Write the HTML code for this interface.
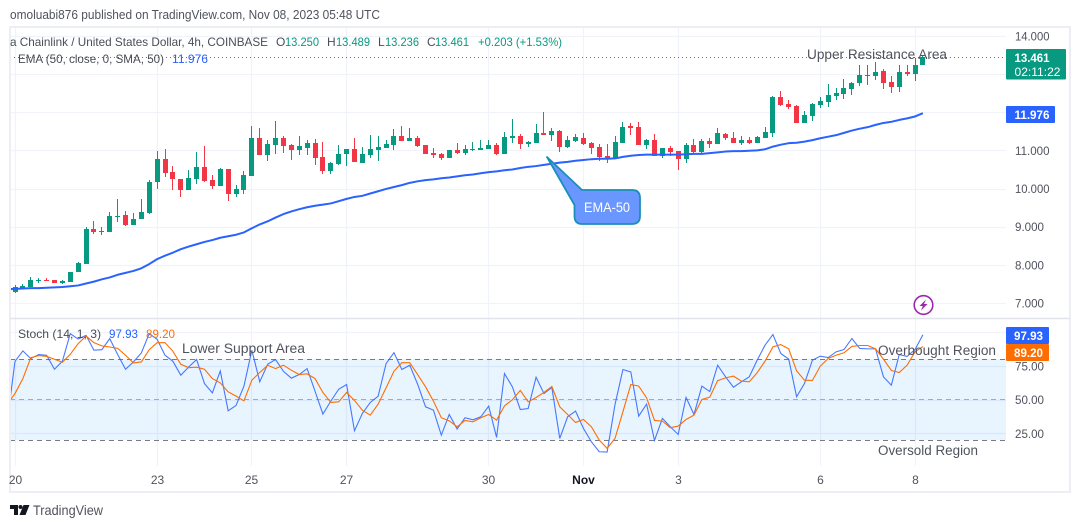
<!DOCTYPE html>
<html lang="en">
<head>
<meta charset="utf-8">
<title>Chainlink / United States Dollar chart</title>
<style>
html,body{margin:0;padding:0;background:#fff;width:1080px;height:528px;overflow:hidden}
svg{display:block;font-family:"Liberation Sans",sans-serif}
</style>
</head>
<body>
<svg id="chart" xmlns="http://www.w3.org/2000/svg" width="1080" height="528" viewBox="0 0 1080 528">
  <defs>
    <clipPath id="clip-main"><rect x="11" y="28" width="995" height="290"/></clipPath>
    <clipPath id="clip-stoch"><rect x="10" y="319" width="996" height="147"/></clipPath>
  </defs>
  <rect x="0" y="0" width="1080" height="528" fill="#fff"/>
  <text x="10" y="19" font-size="12.5" fill="#50535e" textLength="370" lengthAdjust="spacingAndGlyphs">omoluabi876 published on TradingView.com, Nov 08, 2023 05:48 UTC</text>

  <g id="grid"></g>

  <rect x="10" y="359" width="996" height="81" fill="#2196f3" fill-opacity="0.1"/>
  <line x1="10" x2="1006" y1="359.5" y2="359.5" stroke="#787b86" stroke-dasharray="5 4"/>
  <line x1="10" x2="1006" y1="399.5" y2="399.5" stroke="#787b86" stroke-opacity="0.6" stroke-dasharray="5 4"/>
  <line x1="10" x2="1006" y1="440.5" y2="440.5" stroke="#787b86" stroke-dasharray="5 4"/>

  <g id="candles" clip-path="url(#clip-main)" shape-rendering="crispEdges"></g>
  <line x1="10" x2="1006" y1="57.5" y2="57.5" stroke="#089981" stroke-dasharray="1 3"/>
  <path id="ema-line" clip-path="url(#clip-main)" fill="none" stroke="#2962ff" stroke-width="2" stroke-linejoin="round"/>
  <path id="stoch-k-line" clip-path="url(#clip-stoch)" fill="none" stroke="#2962ff" stroke-opacity="0.85" stroke-width="1.1"/>
  <path id="stoch-d-line" clip-path="url(#clip-stoch)" fill="none" stroke="#ff6d00" stroke-width="1.1"/>

  <rect x="10" y="27" width="1060" height="465" fill="none" stroke="#eceef3" stroke-width="2"/>
  <line x1="10" x2="1070" y1="318.5" y2="318.5" stroke="#e0e3eb" stroke-width="1.5"/>

  <g font-size="12">
    <text x="10" y="46" fill="#4a4d57" textLength="258" lengthAdjust="spacingAndGlyphs">a Chainlink / United States Dollar, 4h, COINBASE</text>
    <text x="276" y="46" fill="#4a4d57">O</text>
    <text x="285" y="46" fill="#089981" textLength="34" lengthAdjust="spacingAndGlyphs">13.250</text>
    <text x="327" y="46" fill="#4a4d57">H</text>
    <text x="336" y="46" fill="#089981" textLength="34" lengthAdjust="spacingAndGlyphs">13.489</text>
    <text x="378" y="46" fill="#4a4d57">L</text>
    <text x="385" y="46" fill="#089981" textLength="34" lengthAdjust="spacingAndGlyphs">13.236</text>
    <text x="427" y="46" fill="#4a4d57">C</text>
    <text x="435" y="46" fill="#089981" textLength="34" lengthAdjust="spacingAndGlyphs">13.461</text>
    <text x="478" y="46" fill="#089981" textLength="84" lengthAdjust="spacingAndGlyphs">+0.203 (+1.53%)</text>
    <text x="18" y="63" fill="#4a4d57" textLength="146" lengthAdjust="spacingAndGlyphs">EMA (50, close, 0, SMA, 50)</text>
    <text x="172" y="63" fill="#2962ff" textLength="36" lengthAdjust="spacingAndGlyphs">11.976</text>
    <text x="18" y="338" fill="#4a4d57" textLength="83" lengthAdjust="spacingAndGlyphs">Stoch (14, 1, 3)</text>
    <text x="109" y="338" fill="#2962ff" textLength="29" lengthAdjust="spacingAndGlyphs">97.93</text>
    <text x="146" y="338" fill="#ff6d00" textLength="29" lengthAdjust="spacingAndGlyphs">89.20</text>
  </g>

  <g font-size="13.5" fill="#50535e">
    <text x="807" y="59" textLength="140" lengthAdjust="spacingAndGlyphs">Upper Resistance Area</text>
    <text x="182" y="353" textLength="123" lengthAdjust="spacingAndGlyphs">Lower Support Area</text>
    <text x="878" y="355" textLength="118" lengthAdjust="spacingAndGlyphs">Overbought Region</text>
    <text x="878" y="455" textLength="100" lengthAdjust="spacingAndGlyphs">Oversold Region</text>
  </g>

  <g>
    <path d="M547 157 L582 190 L632 190 Q640 190 640 198 L640 216 Q640 224 632 224 L582 224 Q574.5 224 574.5 216 L574.5 205 Z" fill="#6a96ff" stroke="#1a8fb8" stroke-width="1.8" stroke-linejoin="round"/>
    <text x="607" y="212" font-size="14" fill="#fff" text-anchor="middle" textLength="46" lengthAdjust="spacingAndGlyphs">EMA-50</text>
  </g>

  <g>
    <circle cx="923.5" cy="305" r="9.3" fill="#fff" stroke="#9c27b0" stroke-width="1.6"/>
    <polygon points="926,299.5 919.5,306 922.8,306 921,310.5 927.5,304 924,304" fill="#9c27b0"/>
  </g>

  <g id="axis-labels"></g>

  <g font-size="12" font-weight="bold" fill="#fff">
    <rect x="1006" y="49" width="60" height="30.5" rx="1" fill="#089981"/>
    <text x="1014.5" y="62" textLength="35" lengthAdjust="spacingAndGlyphs">13.461</text>
    <text x="1014.5" y="76" font-weight="normal" textLength="46" lengthAdjust="spacingAndGlyphs">02:11:22</text>
    <rect x="1006" y="106" width="49" height="17" rx="1" fill="#2962ff"/>
    <text x="1014.5" y="119" textLength="35" lengthAdjust="spacingAndGlyphs">11.976</text>
    <rect x="1006" y="327" width="43" height="17" rx="1" fill="#2962ff"/>
    <text x="1014" y="340" textLength="29" lengthAdjust="spacingAndGlyphs">97.93</text>
    <rect x="1006" y="344" width="43" height="17" rx="1" fill="#ff6d00"/>
    <text x="1014" y="357" textLength="29" lengthAdjust="spacingAndGlyphs">89.20</text>
  </g>

  <g>
    <path d="M10 505H18V515H14V509H10Z M23.5 505H29.5L25.5 515H19.5Z" fill="#131722"/>
    <circle cx="20.5" cy="507" r="2" fill="#131722"/>
    <text x="33" y="515" font-size="14" fill="#50535e" textLength="70" lengthAdjust="spacingAndGlyphs">TradingView</text>
  </g>
</svg>

<script>
/* Bars are 4h candles; first entry sits one bar before the "20" tick and is clipped by the pane edge. */
const opens  = [7.30,7.28,7.39,7.43,7.59,7.60,7.60,7.53,7.55,7.81,8.02,8.94,8.87,8.87,9.27,9.31,9.05,9.19,9.37,10.16,10.78,10.44,10.25,9.97,10.26,10.57,10.23,10.08,10.51,9.87,9.97,10.34,11.33,10.89,11.14,11.33,11.14,11.01,11.06,11.19,10.83,10.46,10.64,10.90,11.04,10.68,10.89,11.01,11.06,11.14,11.38,11.25,11.33,11.14,10.93,10.91,10.80,11.01,10.93,11.01,11.01,11.04,11.14,10.91,11.33,11.38,11.17,11.19,11.46,11.40,11.51,11.09,11.25,11.33,11.19,11.09,10.85,10.79,11.19,11.64,11.61,11.14,11.27,10.85,11.06,10.99,10.78,11.14,10.96,11.25,11.17,11.43,11.33,11.19,11.27,11.19,11.33,11.46,12.40,12.22,12.16,11.72,11.90,12.19,12.27,12.43,12.48,12.61,12.77,12.96,12.95,13.08,12.79,12.66,13.06,13.00,13.25];
const highs  = [7.40,7.46,7.50,7.67,7.66,7.66,7.60,7.60,7.82,8.07,8.99,9.15,8.99,9.38,9.73,9.41,9.36,9.73,10.22,10.99,11.04,10.59,10.25,10.49,10.96,11.12,10.36,10.54,10.51,10.10,10.46,11.64,11.59,11.28,11.77,11.38,11.16,11.38,11.27,11.30,11.22,10.70,11.14,11.04,11.33,11.09,11.40,11.38,11.27,11.56,11.64,11.59,11.38,11.14,11.06,10.93,11.01,11.19,11.14,11.22,11.27,11.27,11.19,11.48,11.82,11.43,11.25,11.69,12.01,11.59,11.54,11.38,11.43,11.46,11.22,11.17,11.17,11.38,11.75,11.72,11.75,11.30,11.43,11.06,11.12,10.99,11.19,11.30,11.30,11.33,11.59,11.46,11.48,11.38,11.35,11.38,11.61,12.43,12.56,12.32,12.19,12.03,12.24,12.40,12.74,12.64,12.87,12.79,13.24,13.24,13.32,13.13,12.95,13.24,13.24,13.42,13.489];
const lows   = [7.25,7.25,7.39,7.43,7.53,7.58,7.53,7.51,7.55,7.80,8.02,8.82,8.77,8.85,9.13,9.03,9.05,9.19,9.34,10.00,10.31,9.95,9.78,9.97,10.13,10.16,10.00,10.08,9.68,9.79,9.87,10.34,10.89,10.72,10.90,10.93,10.75,10.88,10.88,10.62,10.38,10.38,10.62,10.59,10.70,10.68,10.81,10.72,11.06,11.01,11.25,11.25,11.09,10.91,10.80,10.76,10.80,10.91,10.89,10.99,11.01,11.04,10.88,10.91,11.19,11.04,11.09,11.19,11.40,11.25,10.96,11.06,11.22,11.14,10.91,10.73,10.67,10.78,11.19,11.40,11.14,11.04,10.85,10.80,10.85,10.49,10.67,10.91,10.93,11.06,11.17,11.27,11.19,11.14,11.17,11.19,11.33,11.35,12.16,12.09,11.72,11.72,11.77,12.11,12.14,12.32,12.35,12.45,12.69,12.71,12.85,12.61,12.50,12.53,12.95,12.82,13.236];
const closes = [7.28,7.41,7.45,7.60,7.60,7.58,7.53,7.58,7.81,8.04,8.94,8.87,8.89,9.28,9.28,9.05,9.20,9.39,10.17,10.78,10.42,10.24,9.97,10.28,10.57,10.21,10.08,10.51,9.87,9.99,10.36,11.33,10.89,11.17,11.33,11.12,11.01,11.12,11.19,10.80,10.46,10.67,10.90,11.04,10.70,10.91,11.04,11.09,11.17,11.38,11.25,11.33,11.12,10.91,10.88,10.80,11.01,10.93,11.04,11.04,11.06,11.14,10.91,11.35,11.38,11.17,11.22,11.46,11.40,11.51,11.09,11.27,11.35,11.17,11.06,10.83,10.78,11.22,11.61,11.59,11.14,11.27,10.85,11.06,10.96,10.78,11.14,10.96,11.25,11.17,11.46,11.33,11.19,11.27,11.19,11.35,11.48,12.40,12.19,12.14,11.72,11.93,12.22,12.30,12.45,12.50,12.64,12.77,12.98,12.98,13.06,12.77,12.66,13.06,13.00,13.24,13.461];
const ema50  = [7.36,7.37,7.38,7.39,7.39,7.40,7.41,7.42,7.44,7.46,7.51,7.56,7.62,7.67,7.74,7.79,7.84,7.91,8.02,8.15,8.24,8.32,8.41,8.48,8.54,8.60,8.65,8.71,8.75,8.79,8.85,8.96,9.06,9.14,9.24,9.33,9.40,9.46,9.51,9.55,9.58,9.61,9.67,9.73,9.78,9.81,9.87,9.93,9.99,10.04,10.09,10.15,10.19,10.22,10.24,10.27,10.29,10.32,10.35,10.37,10.40,10.43,10.45,10.48,10.50,10.54,10.57,10.59,10.62,10.65,10.68,10.70,10.73,10.75,10.77,10.78,10.78,10.79,10.83,10.86,10.88,10.89,10.89,10.89,10.89,10.89,10.90,10.91,10.91,10.93,10.95,10.97,10.98,10.98,10.99,11.00,11.03,11.10,11.15,11.19,11.20,11.23,11.27,11.32,11.36,11.40,11.46,11.52,11.57,11.61,11.67,11.72,11.75,11.80,11.84,11.89,11.976];
const stochK = [33.0,78.3,86.0,80.3,83.3,82.8,72.4,78.3,98.8,94.8,97.5,86.5,86.9,95.1,83.3,72.4,77.8,84.5,98.8,94.6,82.8,78.3,68.0,74.1,79.6,61.8,54.9,71.2,41.6,45.6,59.9,86.5,63.1,76.1,79.6,70.9,65.8,68.5,72.9,56.2,39.2,48.8,57.6,61.1,26.8,39.7,47.8,52.5,76.6,84.7,72.2,75.4,61.3,44.6,42.1,23.6,38.9,28.1,36.5,35.0,37.2,45.1,21.9,69.2,59.4,42.6,43.3,66.5,54.4,58.9,21.2,37.2,41.4,28.6,18.7,11.3,11.1,46.3,72.2,70.4,37.7,46.6,19.7,36.0,29.8,24.1,51.5,38.9,59.9,55.9,75.4,66.8,59.1,63.1,66.8,79.1,90.2,98.1,84.1,79.9,52.0,61.9,79.1,82.1,81.1,85.3,87.0,95.2,87.8,87.5,87.5,66.8,60.6,83.3,81.9,87.0,97.93];
const stochD = [46.5,54.4,65.5,81.0,82.5,82.0,79.8,77.6,83.5,91.4,97.0,92.1,89.7,88.9,87.9,82.8,77.1,77.8,86.9,92.1,92.1,85.7,76.1,73.6,73.9,72.4,65.5,62.3,55.7,52.5,49.0,64.3,70.0,75.4,72.9,75.4,71.7,68.5,69.0,65.5,55.2,47.8,48.3,55.2,49.3,42.1,38.4,46.6,58.6,70.9,77.3,77.3,68.5,59.4,48.8,36.5,34.2,29.8,34.5,33.5,36.5,38.9,34.7,45.3,49.8,56.7,48.3,51.5,55.2,59.6,44.6,38.9,33.0,35.2,29.8,20.0,13.8,21.2,40.9,61.1,59.9,51.2,34.5,34.0,29.1,30.3,35.2,38.4,50.0,51.7,64.0,66.0,67.3,63.6,63.1,69.8,78.4,89.0,90.7,87.5,71.2,64.3,64.1,74.7,80.4,82.8,84.6,89.3,90.0,90.0,87.5,79.9,71.5,70.0,75.4,85.3,89.20];

const priceTicks = [14, 13, 12, 11, 10, 9, 8, 7];
const priceTickLabels = ["14.000", "", "", "11.000", "10.000", "9.000", "8.000", "7.000"];
const stochGrid = [100, 75, 50, 25];
const stochTickLabels = ["", "75.00", "50.00", "25.00"];
const dayTickBars = [1, 19, 31, 43, 61, 73, 85, 103, 115];
const dayTickLabels = ["20", "23", "25", "27", "30", "Nov", "3", "6", "8"];

const SVG_NS = "http://www.w3.org/2000/svg";
function barX(i) { return 7.105 + 7.895 * i; }
function priceY(p) { return 36 + (14 - p) * 38.14; }
function stochY(v) { return 399.5 - (v - 50) * 1.35; }
function make(tag, attrs, parent) {
  const el = document.createElementNS(SVG_NS, tag);
  for (const k in attrs) el.setAttribute(k, attrs[k]);
  parent.appendChild(el);
  return el;
}
function linePath(values, yFn) {
  return values.map(function (v, i) {
    return (i ? "L" : "M") + barX(i).toFixed(2) + " " + yFn(v).toFixed(2);
  }).join(" ");
}

const gridGroup = document.getElementById("grid");
const axisGroup = document.getElementById("axis-labels");
const GRID = "#f0f3fa";

priceTicks.forEach(function (p, idx) {
  const y = Math.round(priceY(p)) + 0.5;
  const ln = make("line", { x1: 10, x2: 1006, y1: y, y2: y, stroke: GRID, "stroke-width": 1.2 }, gridGroup);
  
  
  if (priceTickLabels[idx]) {
    const t = make("text", { x: 1015, y: priceY(p) + 4.5, "font-size": 12, fill: "#50535e" }, axisGroup);
    t.textContent = priceTickLabels[idx];
    
    
    t.setAttribute('textLength', priceTickLabels[idx].length === 6 ? 34.5 : 29);
    t.setAttribute('lengthAdjust', 'spacingAndGlyphs');
  }
});

stochGrid.forEach(function (v, idx) {
  const y = Math.round(stochY(v)) + 0.5;
  const ln = make("line", { x1: 10, x2: 1006, y1: y, y2: y, stroke: GRID, "stroke-width": 1.2 }, gridGroup);
  
  
  if (stochTickLabels[idx]) {
    const t = make("text", { x: 1015, y: stochY(v) + 4.5, "font-size": 12, fill: "#50535e" }, axisGroup);
    t.textContent = stochTickLabels[idx];
    
    
    t.setAttribute('textLength', 29);
    t.setAttribute('lengthAdjust', 'spacingAndGlyphs');
  }
});

dayTickBars.forEach(function (bar, idx) {
  const x = Math.floor(barX(bar)) + 0.5;
  const ln = make("line", { x1: x, x2: x, y1: 28, y2: 466, stroke: GRID, "stroke-width": 1.2 }, gridGroup);
  
  
  const t = make("text", { x: x, y: 484, "font-size": 12, "text-anchor": "middle", fill: dayTickLabels[idx] === "Nov" ? "#131722" : "#50535e", "font-weight": dayTickLabels[idx] === "Nov" ? "bold" : "normal" }, axisGroup);
  t.textContent = dayTickLabels[idx];
  
  
});

const candleGroup = document.getElementById("candles");
closes.forEach(function (c, i) {
  const o = opens[i];
  const up = c >= o;
  const colour = up ? "#089981" : "#f23645";
  const cx = Math.floor(barX(i));
  const hi = priceY(highs[i]);
  const lo = priceY(lows[i]);
  const top = Math.round(priceY(Math.max(o, c)));
  const bot = Math.round(priceY(Math.min(o, c)));
  const wick = make("rect", { x: cx, y: Math.round(hi), width: 1, height: Math.max(1, Math.round(lo) - Math.round(hi)), fill: colour }, candleGroup);
  
  
  const body = make("rect", { x: cx - 2, y: top, width: 5, height: Math.max(1, bot - top), fill: colour }, candleGroup);
  
  
});

document.getElementById("ema-line").setAttribute("d", linePath(ema50, priceY));
document.getElementById("stoch-k-line").setAttribute("d", linePath(stochK, stochY));
document.getElementById("stoch-d-line").setAttribute("d", linePath(stochD, stochY));
</script>
</body>
</html>
